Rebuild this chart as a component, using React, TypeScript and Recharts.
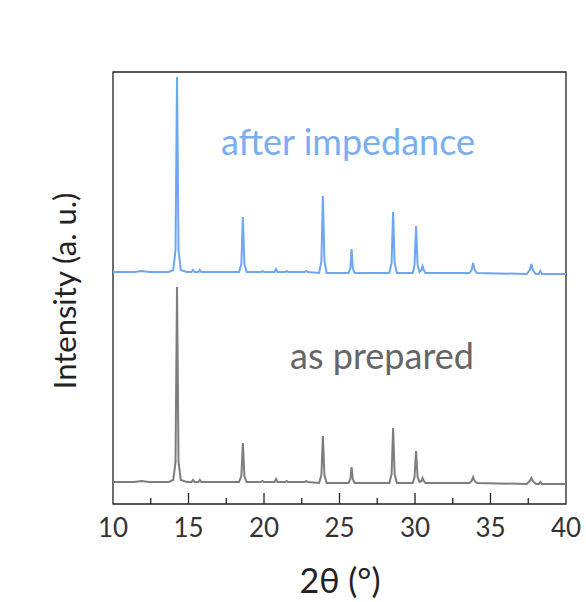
import React from 'react';
import { LineChart, Line, XAxis, YAxis, ReferenceArea } from 'recharts';

// 2θ positions (deg), shared by both patterns
const twoTheta = [
  10, 11.4, 11.9, 12.4, 13.7, 13.99, 14.14, 14.24, 14.34, 14.49, 14.9, 15.2, 15.3, 15.4,
  15.65, 15.75, 15.85, 18.35, 18.5, 18.6, 18.7, 18.85, 19.8, 19.9, 20.0, 20.7, 20.8, 20.9,
  21.4, 21.5, 21.6, 22.7, 22.8, 22.9, 23.65, 23.8, 23.9, 24.0, 24.15, 25.6, 25.72, 25.8,
  25.88, 26.0, 28.3, 28.45, 28.55, 28.65, 28.8, 29.85, 29.97, 30.07, 30.17, 30.3, 30.42,
  30.5, 30.58, 30.7, 33.6, 33.75, 33.85, 33.95, 34.1, 37.4, 37.6, 37.7, 37.8, 38.0, 38.2,
  38.3, 38.4, 40,
];

const asPrepared = [
  0, 0, 1, 0, 0, 2, 20, 195, 20, 2, 0, 0, 2, 0,
  0, 2, 0, 0, 6, 39, 6, 0, 0, 1, 0, 0, 3, 0,
  0, 1, 0, 0, 1, 0, -1, 7, 46, 7, -1, -1, 3, 15,
  3, -1, -1, 8, 54, 8, -1, -1, 5, 31, 5, 0, 1,
  4, 1, -1, -1, 1, 5, 1, -1, -2, 1, 4, 1, -2, -2,
  0, -2, -2,
];

const afterImpedance = [
  0, 0, 1, 0, 0, 2, 22, 195, 22, 2, 0, 0, 2, 0,
  0, 2, 0, 0, 8, 55, 8, 0, 0, 1, 0, 0, 3, 0,
  0, 1, 0, 0, 1, 0, -1, 11, 76, 11, -1, -1, 4, 23,
  4, -1, -1, 9, 60, 9, -1, -1, 7, 46, 7, 0, 2,
  6, 2, -1, -1, 2, 9, 2, -1, -2, 2, 8, 2, -2, -2,
  1, -2, -2,
];

// vertical stacking offsets (a.u.)
const PREPARED_OFFSET = 22;
const IMPEDANCE_OFFSET = 232;

const xTicks = [10, 12.5, 15, 17.5, 20, 22.5, 25, 27.5, 30, 32.5, 35, 37.5, 40];
const majorLabels = [10, 15, 20, 25, 30, 35, 40];

const BLUE = '#6ea6f2';
const GRAY = '#7d7d7d';
const FONT = 'Lato, "Open Sans", sans-serif';

const data = twoTheta.map((t, i) => ({
  t,
  prepared: asPrepared[i] + PREPARED_OFFSET,
  impedance: afterImpedance[i] + IMPEDANCE_OFFSET,
}));

const Tick = (props: any) => {
  const { x, y, payload } = props;
  const v = payload.value as number;
  const major = majorLabels.includes(v);
  const edge = v === 10 || v === 40;
  return (
    <g>
      {!edge && (
        <line x1={x} x2={x} y1={y} y2={y - (major ? 11 : 6)} stroke="#222" strokeWidth={1.3} />
      )}
      {major && (
        <text x={x} y={y + 33} textAnchor="middle" fontSize={26} fill="#333" fontFamily={FONT}>
          {v}
        </text>
      )}
    </g>
  );
};

export default function App() {
  return (
    <div style={{ position: 'absolute', left: 0, top: 0, background: '#fff' }}>
      <LineChart
        width={586}
        height={602}
        data={data}
        margin={{ top: 72, right: 20, bottom: 0, left: 113 }}
      >
        <XAxis
          dataKey="t"
          type="number"
          domain={[10, 40]}
          ticks={xTicks}
          tick={<Tick />}
          tickLine={false}
          tickSize={0}
          tickMargin={0}
          axisLine={false}
          height={98}
          interval={0}
        />
        <YAxis hide domain={[0, 432]} />
        <Line
          type="linear"
          dataKey="prepared"
          stroke={GRAY}
          strokeWidth={2}
          dot={false}
          isAnimationActive={false}
        />
        <Line
          type="linear"
          dataKey="impedance"
          stroke={BLUE}
          strokeWidth={2}
          dot={false}
          isAnimationActive={false}
        />
        <ReferenceArea
          x1={10}
          x2={40}
          y1={0}
          y2={432}
          fill="none"
          stroke="#222"
          strokeWidth={1.3}
          ifOverflow="visible"
        />
        <text x={348} y={155} textAnchor="middle" fontSize={36} fill="#7aaef0" fontFamily={FONT}>
          after impedance
        </text>
        <text x={382} y={369} textAnchor="middle" fontSize={36} fill="#666" fontFamily={FONT}>
          as prepared
        </text>
        <text
          x={0}
          y={0}
          transform="translate(76 291) rotate(-90)"
          textAnchor="middle"
          fontSize={31}
          fill="#222"
          fontFamily={FONT}
        >
          Intensity (a. u.)
        </text>
        <text x={340} y={593} textAnchor="middle" fontSize={34} fill="#222" fontFamily={FONT}>
          2θ (°)
        </text>
      </LineChart>
    </div>
  );
}
